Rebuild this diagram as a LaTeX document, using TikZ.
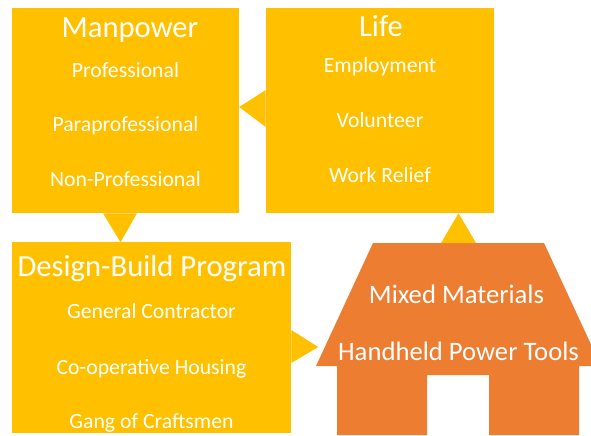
\documentclass[tikz,border=0pt]{standalone}
\usepackage{fontspec}
\setmainfont{Carlito}
\usetikzlibrary{calc,fit}
\definecolor{cGold}{RGB}{255,192,0}
\definecolor{cOrange}{RGB}{237,125,49}

\begin{document}
\begin{tikzpicture}[x=0.75pt, y=-0.75pt,
  box/.style={fill=cGold, inner sep=0pt},
  heading/.style={text=white, anchor=base, font=\fontsize{23}{27}\selectfont},
  entry/.style={text=white, anchor=base, font=\fontsize{16.3}{19}\selectfont},
  houseentry/.style={text=white, anchor=base, font=\fontsize{20}{24}\selectfont}]
  \clip (0,0) rectangle (591,435);
  % callout boxes
  \node[box, fit={(12,8) (239,213)}] (manpower) {};
  \node[box, fit={(266,8) (494,213)}] (life) {};
  \node[box, fit={(12,242) (291,433)}] (program) {};
  % callout pointers
  \fill[cGold] ($(life.west)+(0,-20.5)$) -- ($(manpower.east)+(0,-3.5)$) -- ($(life.west)+(0,16.5)$) -- cycle;
  \fill[cGold] ($(manpower.south)+(-22.5,0)$) -- ($(manpower.south)+(11.5,0)$) -- ($(manpower.south)+(-5,29)$) -- cycle;
  \fill[cGold] ($(program.east)+(0,-7.5)$) -- ($(program.east)+(27,9.5)$) -- ($(program.east)+(0,25.5)$) -- cycle;
  % house with door cut out
  \fill[cOrange] (373,243) -- (544,243) -- (601,366) -- (579,366) -- (579,435) -- (489,435)
    -- (489,375) -- (427,375) -- (427,435) -- (337,435) -- (337,366) -- (316,366) -- cycle;
  \coordinate (roof) at (458.5,243);
  \fill[cGold] ($(roof)+(-17.5,0)$) -- (roof |- life.south) -- ($(roof)+(17.5,0)$) -- cycle;
  % Manpower
  \node[heading] (mp) at (130,38) {Manpower};
  \node[entry] (mp1) at (125.5,77) {Professional};
  \node[entry] (mp2) at (125.5,131.5) {Paraprofessional};
  \node[entry] (mp3) at (125.5,186) {Non-Professional};
  % Life
  \node[heading] (lf) at (381,36.7) {Life};
  \node[entry] (lf1) at (380,72.7) {Employment};
  \node[entry] (lf2) at (380,127.5) {Volunteer};
  \node[entry] (lf3) at (380,182) {Work Relief};
  % Design-Build Program
  \node[heading] (dbp) at (152,276) {Design-Build Program};
  \node[entry] (dbp1) at (151.5,318.7) {General Contractor};
  \node[entry] (dbp2) at (151.5,374.4) {Co-operative Housing};
  \node[entry] (dbp3) at (151.5,428.7) {Gang of Craftsmen};
  % house
  \node[houseentry] (hs1) at (456.5,303.5) {Mixed Materials};
  \node[houseentry] (hs2) at (458.5,360) {Handheld Power Tools};
\end{tikzpicture}
\end{document}
